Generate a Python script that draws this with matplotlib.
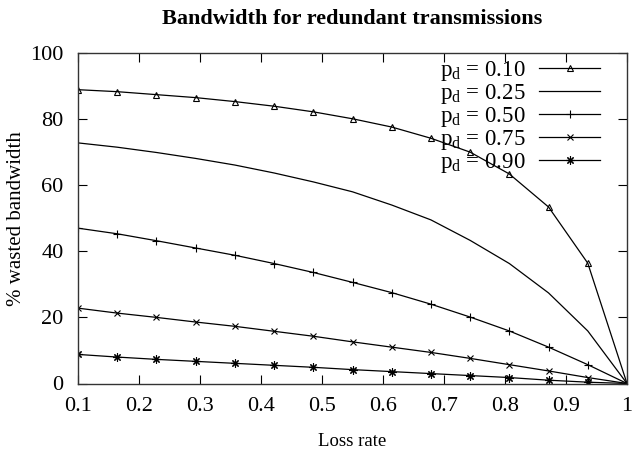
import matplotlib
matplotlib.use("Agg")
import matplotlib.pyplot as plt
import numpy as np

plt.rcParams['font.family'] = ['Liberation Serif', 'DejaVu Serif']
plt.rcParams['mathtext.fontset'] = 'custom'
plt.rcParams['mathtext.rm'] = 'Liberation Serif'
plt.rcParams['mathtext.it'] = 'Liberation Serif:italic'

loss_rate = [0.1, 0.1643, 0.2286, 0.2929, 0.3571, 0.4214, 0.4857, 0.55,
             0.6143, 0.6786, 0.7429, 0.8071, 0.8714, 0.9357, 1.0]
pd_010 = [88.9, 88.3, 87.4, 86.5, 85.3, 83.9, 82.2, 80.1, 77.6, 74.2, 70.0, 63.4, 53.4, 36.4, 0.0]
pd_025 = [72.8, 71.5, 69.9, 68.1, 66.1, 63.7, 61.0, 58.0, 54.0, 49.5, 43.3, 36.3, 27.4, 15.9, 0.0]
pd_050 = [47.0, 45.3, 43.2, 41.0, 38.8, 36.3, 33.6, 30.6, 27.5, 24.0, 20.1, 15.9, 11.0, 5.7, 0.0]
pd_075 = [22.8, 21.3, 20.0, 18.6, 17.3, 15.8, 14.3, 12.6, 11.0, 9.4, 7.6, 5.7, 3.8, 1.8, 0.0]
pd_090 = [8.8, 8.0, 7.3, 6.7, 6.1, 5.5, 4.9, 4.2, 3.6, 3.0, 2.4, 1.8, 1.0, 0.4, 0.0]
labels = [r'p$_\mathrm{d}$ = 0.10', r'p$_\mathrm{d}$ = 0.25', r'p$_\mathrm{d}$ = 0.50',
          r'p$_\mathrm{d}$ = 0.75', r'p$_\mathrm{d}$ = 0.90']
x_ticks = [0.1, 0.2, 0.3, 0.4, 0.5, 0.6, 0.7, 0.8, 0.9, 1.0]
x_ticklabels = ['0.1', '0.2', '0.3', '0.4', '0.5', '0.6', '0.7', '0.8', '0.9', '1']
y_ticks = [0, 20, 40, 60, 80, 100]

fig = plt.figure(figsize=(6.4, 4.54), dpi=100)
ax = fig.add_axes([78/640, 1 - 383.5/454, (627-78)/640, (383.5-53)/454])

series = [pd_010, pd_025, pd_050, pd_075, pd_090]
markers = ['^', None, '+', 'x', (8, 2, 0)]
msizes = [5, 0, 6, 5, 6]
for vals, m, ms, lab in zip(series, markers, msizes, labels):
    kw = dict(color='black', lw=0.9, label=lab)
    if m is not None:
        kw.update(marker=m, markersize=ms, markevery=list(range(len(loss_rate) - 1)),
                  markeredgewidth=0.8)
        if m == '^':
            kw.update(markerfacecolor='none')
    ax.plot(loss_rate, vals, **kw)

ax.set_xlim(0.1, 1.0)
ax.set_ylim(0, 100)
ax.set_xticks(x_ticks)
ax.set_xticklabels(x_ticklabels)
ax.set_yticks(y_ticks)
ax.tick_params(direction='in', length=6.5, width=0.8, top=True, right=True,
               labelsize=16)
ax.tick_params(axis='x', pad=10)
ax.tick_params(axis='y', pad=10.5)
for s in ax.spines.values():
    s.set_linewidth(1.0)
    s.set_color('#333333')

ax.set_xlabel('Loss rate', fontsize=13.5, labelpad=12)
ax.set_ylabel('% wasted bandwidth', fontsize=15, labelpad=3)
ax.set_title('Bandwidth for redundant transmissions', fontsize=16,
             fontweight='bold', pad=21)

leg = ax.legend(loc='upper right', bbox_to_anchor=(0.951, 0.981), frameon=False,
                markerfirst=False, fontsize=16.5, handlelength=2.66,
                handletextpad=0.61, labelspacing=-0.05, borderaxespad=0.0,
                borderpad=0.0)

fig.savefig('out.png', dpi=100)
